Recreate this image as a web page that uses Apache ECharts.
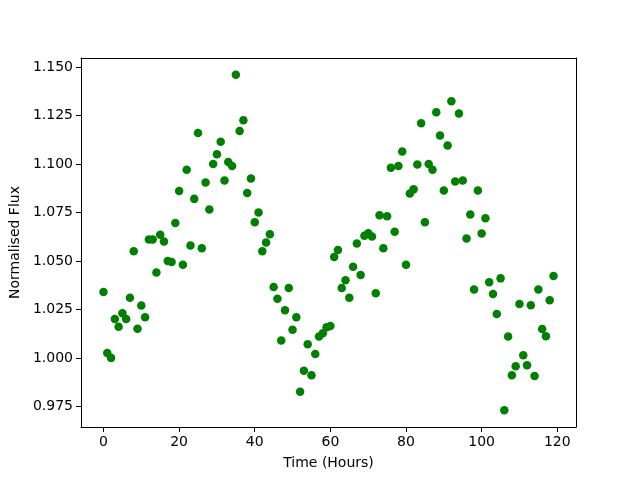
<!DOCTYPE html>
<html>
<head>
<meta charset="utf-8">
<script src="https://cdn.jsdelivr.net/npm/echarts@6/dist/echarts.min.js"></script>
<style>
    body { margin: 0; background: #fff; }
    #flux { width: 640px; height: 480px; }
</style>
</head>
<body>
<div id="flux"></div>
<script>
    // time of each measurement (hours)
    var hours = [
        0, 1, 2, 3, 4, 5, 6, 7, 8, 9, 10, 11, 12, 13, 14, 15, 16, 17, 18, 19,
        20, 21, 22, 23, 24, 25, 26, 27, 28, 29, 30, 31, 32, 33, 34, 35, 36, 37, 38, 39,
        40, 41, 42, 43, 44, 45, 46, 47, 48, 49, 50, 51, 52, 53, 54, 55, 56, 57, 58, 59,
        60, 61, 62, 63, 64, 65, 66, 67, 68, 69, 70, 71, 72, 73, 74, 75, 76, 77, 78, 79,
        80, 81, 82, 83, 84, 85, 86, 87, 88, 89, 90, 91, 92, 93, 94, 95, 96, 97, 98, 99,
        100, 101, 102, 103, 104, 105, 106, 107, 108, 109, 110, 111, 112, 113, 114, 115, 116, 117, 118, 119
    ];
    // normalised flux
    var flux = [
        1.034, 1.0025, 1.000, 1.020, 1.016, 1.023, 1.020, 1.031, 1.055, 1.015,
        1.027, 1.021, 1.061, 1.061, 1.044, 1.0635, 1.060, 1.050, 1.0495, 1.0695,
        1.086, 1.048, 1.097, 1.058, 1.082, 1.116, 1.0565, 1.0905, 1.0765, 1.100,
        1.105, 1.1115, 1.0915, 1.101, 1.099, 1.146, 1.117, 1.1225, 1.085, 1.0925,
        1.070, 1.075, 1.055, 1.0595, 1.0637, 1.0365, 1.0305, 1.009, 1.0245, 1.036,
        1.0145, 1.021, 0.9825, 0.9933, 1.007, 0.991, 1.002, 1.011, 1.0127, 1.0158,
        1.0164, 1.052, 1.0556, 1.036, 1.040, 1.031, 1.047, 1.059, 1.0427, 1.063,
        1.0643, 1.0626, 1.0333, 1.0736, 1.0565, 1.073, 1.098, 1.065, 1.099, 1.1064,
        1.048, 1.0848, 1.0869, 1.0997, 1.121, 1.070, 1.100, 1.097, 1.1267, 1.1147,
        1.0863, 1.1095, 1.1324, 1.091, 1.126, 1.0915, 1.0616, 1.074, 1.0353, 1.0863,
        1.0642, 1.072, 1.039, 1.033, 1.0226, 1.041, 0.973, 1.011, 0.991, 0.9957,
        1.0278, 1.0013, 0.9962, 1.0271, 0.9907, 1.0353, 1.0149, 1.0111, 1.0297, 1.0422
    ];
    var xTicks = [0, 20, 40, 60, 80, 100, 120];
    var yTicks = [0.975, 1.000, 1.025, 1.050, 1.075, 1.100, 1.125, 1.150];

    var points = [];
    for (var i = 0; i < hours.length; i++) {
        points.push([hours[i], flux[i]]);
    }

    var font = 'DejaVu Sans';
    var fontSize = 14;
    var xMin = -5.95, xMax = 124.95;
    var yMin = 0.96435, yMax = 1.15465;

    // plain axis used only to close the frame on top / right
    function frameAxis(pos, min, max) {
        return {
            type: 'value',
            position: pos,
            min: min,
            max: max,
            splitLine: { show: false },
            axisTick: { show: false },
            axisLabel: { show: false },
            axisLine: { show: true, onZero: false, lineStyle: { color: '#000', width: 1 } }
        };
    }

    var option = {
        animation: false,
        backgroundColor: '#fff',
        grid: {
            left: 80,
            right: 64,
            top: 58,
            bottom: 53
        },
        xAxis: [
            {
                type: 'value',
                position: 'bottom',
                min: xMin,
                max: xMax,
                name: 'Time (Hours)',
                nameLocation: 'middle',
                nameGap: 29,
                nameTextStyle: { color: '#000', fontFamily: font, fontSize: fontSize },
                splitLine: { show: false },
                axisLine: { show: true, onZero: false, lineStyle: { color: '#000', width: 1 } },
                axisTick: { show: true, length: 5, customValues: xTicks, lineStyle: { color: '#000' } },
                axisLabel: {
                    customValues: xTicks,
                    margin: 8,
                    color: '#000',
                    fontFamily: font,
                    fontSize: fontSize
                }
            },
            frameAxis('top', xMin, xMax)
        ],
        yAxis: [
            {
                type: 'value',
                position: 'left',
                min: yMin,
                max: yMax,
                name: 'Normalised Flux',
                nameLocation: 'middle',
                nameGap: 58,
                nameTextStyle: { color: '#000', fontFamily: font, fontSize: fontSize },
                splitLine: { show: false },
                axisLine: { show: true, onZero: false, lineStyle: { color: '#000', width: 1 } },
                axisTick: { show: true, length: 5, customValues: yTicks, lineStyle: { color: '#000' } },
                axisLabel: {
                    customValues: yTicks,
                    margin: 8,
                    color: '#000',
                    fontFamily: font,
                    fontSize: fontSize,
                    formatter: function (v) { return v.toFixed(3); }
                }
            },
            frameAxis('right', yMin, yMax)
        ],
        series: [
            {
                type: 'scatter',
                xAxisIndex: 0,
                yAxisIndex: 0,
                data: points,
                symbol: 'circle',
                symbolSize: 8.5,
                itemStyle: { color: '#008000', opacity: 1 }
            }
        ]
    };

    echarts.init(document.getElementById('flux')).setOption(option);
</script>
</body>
</html>
